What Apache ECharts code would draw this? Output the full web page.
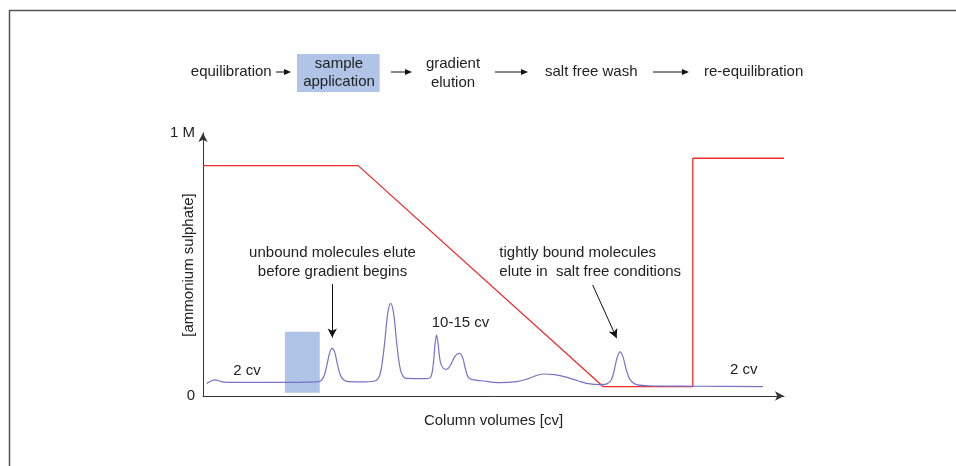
<!DOCTYPE html>
<html>
<head>
<meta charset="utf-8">
<script src="https://cdn.jsdelivr.net/npm/echarts@6/dist/echarts.min.js"></script>
<style>html,body{margin:0;padding:0;background:#fff}#c{width:956px;height:466px}</style>
</head>
<body>
<div id="c"></div>
<script>
// ---- data (x: column volumes, arbitrary units 0..100; y: fraction of 1 M) ----
var saltX = [0, 26.7, 68.9, 84.3, 84.3, 100];
var saltY = [0.876, 0.876, 0.0354, 0.0354, 0.904, 0.904];

var uvX = [0.64,1.5,2.1,2.8,3.6,5,12,19.6,20.3,20.9,21.4,21.85,22.25,22.65,23.1,23.6,24.2,25,28,29.6,30.3,30.8,31.3,31.8,32.3,32.8,33.3,33.8,34.3,35,38,39.1,39.6,39.95,40.2,40.45,40.85,41.4,41.95,42.6,43.4,44.15,44.7,45.2,45.7,46.6,48,51,54,56,58.5,60.5,62.5,64.5,66,68.5,69.6,70.3,70.8,71.3,71.8,72.3,72.85,73.5,74.5,76.5,85,96.4];
var uvY = [0.048,0.058,0.061,0.057,0.053,0.052,0.052,0.054,0.058,0.08,0.125,0.168,0.181,0.168,0.125,0.082,0.062,0.055,0.054,0.057,0.072,0.12,0.21,0.315,0.3525,0.315,0.21,0.12,0.08,0.067,0.066,0.07,0.115,0.2,0.232,0.2,0.13,0.104,0.1015,0.118,0.152,0.162,0.145,0.1,0.07,0.061,0.058,0.0506,0.055,0.066,0.0837,0.081,0.072,0.058,0.048,0.043,0.047,0.063,0.1,0.148,0.168,0.148,0.1,0.062,0.044,0.039,0.037,0.0354];

var sampleZone = [[14.1, 0.0125], [20.1, 0.2445]];
var arrowUnbound = [[22.25, 0.426], [22.25, 0.222]];
var arrowTight = [[67.07, 0.422], [71.2, 0.22]];
var yTickLabels = {0: '0', 1: '1 M'};

var FONT = "'Liberation Sans', Arial, Helvetica, sans-serif";
var TXT = '#222';

function zip(a, b) { return a.map(function (v, i) { return [v, b[i]]; }); }

function txt(x, y, s, align) {
  return { type: 'text', style: { x: x, y: y, text: s, fill: TXT, font: '15px ' + FONT, textAlign: align || 'left', textVerticalAlign: 'middle' } };
}
function harrow(x1, x2, y) {
  return [
    { type: 'line', shape: { x1: x1, y1: y, x2: x2 - 5, y2: y }, style: { stroke: '#111', lineWidth: 1 } },
    { type: 'polygon', shape: { points: [[x2, y], [x2 - 7, y - 3], [x2 - 7, y + 3]] }, style: { fill: '#111' } }
  ];
}

var graphics = [
  { type: 'line', shape: { x1: 9, y1: 10.5, x2: 956, y2: 10.5 }, style: { stroke: '#555', lineWidth: 1.5 } },
  { type: 'line', shape: { x1: 9.5, y1: 10, x2: 9.5, y2: 466 }, style: { stroke: '#555', lineWidth: 1.5 } },
  { type: 'rect', shape: { x: 297, y: 54, width: 82.6, height: 38 }, style: { fill: '#afc4e6' } },
  txt(190.8, 72, 'equilibration'),
  txt(339, 63.5, 'sample', 'center'),
  txt(339, 81.5, 'application', 'center'),
  txt(453, 64, 'gradient', 'center'),
  txt(453, 83, 'elution', 'center'),
  txt(545, 72, 'salt free wash'),
  txt(704, 72, 're-equilibration'),
  txt(332.5, 253.3, 'unbound molecules elute', 'center'),
  txt(332.5, 271.7, 'before gradient begins', 'center'),
  txt(499.3, 253.3, 'tightly bound molecules'),
  txt(499.3, 271.7, 'elute in  salt free conditions'),
  txt(431.7, 323.3, '10-15 cv'),
  txt(233.3, 370.7, '2 cv'),
  txt(730, 370, '2 cv'),
  { type: 'text', x: 188.5, y: 265, rotation: Math.PI / 2,
    style: { x: 0, y: 0, text: '[ammonium sulphate]', fill: TXT, font: '15px ' + FONT, textAlign: 'center', textVerticalAlign: 'middle' } }
].concat(harrow(276, 291, 72), harrow(391, 412, 72), harrow(495, 528, 72), harrow(653, 689, 72));

var chart = echarts.init(document.getElementById('c'), null, { renderer: 'canvas' });
chart.setOption({
  animation: false,
  backgroundColor: '#fff',
  grid: { left: 203, right: 172, top: 133, bottom: 70, containLabel: false },
  textStyle: { fontFamily: FONT },
  xAxis: {
    type: 'value', min: 0, max: 100,
    name: 'Column volumes [cv]', nameLocation: 'middle', nameGap: 17,
    nameTextStyle: { fontSize: 15, color: TXT, fontFamily: FONT },
    axisLine: { lineStyle: { color: '#333', width: 1 }, symbol: ['none', 'arrow'], symbolSize: [7, 9] },
    axisTick: { show: false }, axisLabel: { show: false }, splitLine: { show: false }
  },
  yAxis: {
    type: 'value', min: 0, max: 1, interval: 1,
    axisLine: { show: true, lineStyle: { color: '#333', width: 1 }, symbol: ['none', 'arrow'], symbolSize: [7, 9] },
    axisTick: { show: false },
    axisLabel: { fontSize: 15, color: TXT, margin: 8, fontFamily: FONT, formatter: function (v) { return yTickLabels[v] || ''; } },
    splitLine: { show: false }
  },
  series: [
    {
      type: 'line', data: zip(uvX, uvY), smooth: 0.35, symbol: 'none',
      lineStyle: { color: '#7672c6', width: 1.2 }, z: 3,
      markArea: { silent: true, itemStyle: { color: '#afc4e6' }, data: [[{ coord: sampleZone[0] }, { coord: sampleZone[1] }]] }
    },
    {
      type: 'line', data: zip(saltX, saltY), symbol: 'none',
      lineStyle: { color: '#f22a2a', width: 1.3 }, z: 2,
      markLine: {
        silent: true, symbol: ['none', 'arrow'], symbolSize: [7, 9],
        lineStyle: { color: '#111', width: 1, type: 'solid' }, label: { show: false },
        data: [
          [{ coord: arrowUnbound[0] }, { coord: arrowUnbound[1] }],
          [{ coord: arrowTight[0] }, { coord: arrowTight[1] }]
        ]
      }
    }
  ],
  graphic: graphics
});
</script>
</body>
</html>
